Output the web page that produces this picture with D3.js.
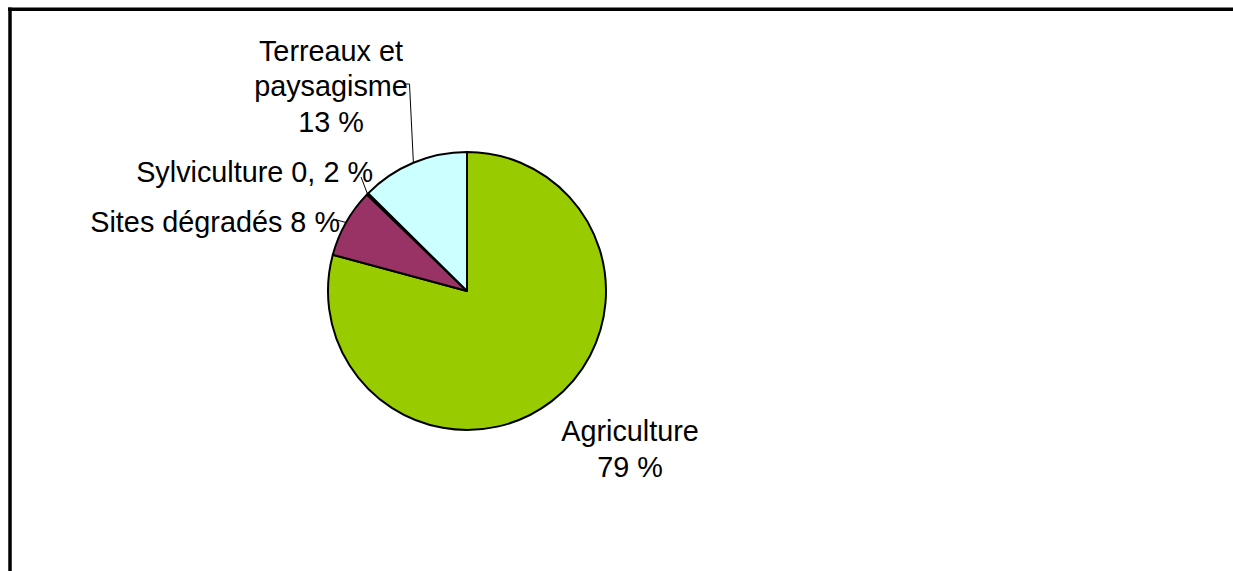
<!DOCTYPE html>
<html>
<head>
<meta charset="utf-8">
<script src="https://cdn.jsdelivr.net/npm/d3@7"></script>
<style>
  html, body { margin: 0; padding: 0; background: #fff; }
  svg { display: block; }
  text { font-family: "Liberation Sans", Arial, sans-serif; fill: #000; }
</style>
</head>
<body>
<svg id="chart" width="1233" height="571"></svg>
<script>
// ---- data ----
const categories = ["Agriculture", "Sites dégradés", "Sylviculture", "Terreaux et paysagisme"];
const values = [79.2, 8, 0.2, 12.6];
const labelLines = [
  ["Agriculture", "79 %"],
  ["Sites dégradés 8 %"],
  ["Sylviculture 0, 2 %"],
  ["Terreaux et", "paysagisme", "13 %"]
];
const colors = ["#99CC00", "#993366", "#FFFFCC", "#CCFFFF"];

// ---- layout ----
const W = 1233, H = 571;
const cx = 467, cy = 291, R = 139;
const fontSize = 28.8, lineH = 35.5;
// label placement: anchor point (x, baseline of first line), text-anchor, leader elbow
const labelLayout = [
  { x: 630, y: 441, anchor: "middle", leader: null },
  { x: 340, y: 232, anchor: "end", leader: { from: [333, 219] } },
  { x: 373, y: 182, anchor: "end", leader: { from: [361, 177] } },
  { x: 331, y: 60.5, anchor: "middle", leader: { from: [405, 84], elbow: [409.5, 84] } }
];

const svg = d3.select("#chart");

// frame (top and left edges visible)
svg.append("line").attr("x1", 8).attr("x2", W).attr("y1", 9.25).attr("y2", 9.25)
  .attr("stroke", "#000").attr("stroke-width", 3.5);
svg.append("line").attr("x1", 10).attr("x2", 10).attr("y1", 7.5).attr("y2", H)
  .attr("stroke", "#000").attr("stroke-width", 3.5);

const pie = d3.pie().sort(null).value(d => d)(values);
const arc = d3.arc().innerRadius(0).outerRadius(R);

const g = svg.append("g").attr("transform", `translate(${cx},${cy})`);
g.selectAll("path.slice").data(pie).enter().append("path")
  .attr("class", "slice")
  .attr("d", arc)
  .attr("fill", (d, i) => colors[i])
  .attr("stroke", "#000")
  .attr("stroke-width", 2)
  .attr("stroke-linejoin", "round");

// leader lines
pie.forEach((d, i) => {
  const L = labelLayout[i].leader;
  if (!L) return;
  const mid = (d.startAngle + d.endAngle) / 2;
  const ex = cx + R * Math.sin(mid), ey = cy - R * Math.cos(mid);
  const pts = [L.from];
  if (L.elbow) pts.push(L.elbow);
  pts.push([ex, ey]);
  svg.append("path")
    .attr("d", d3.line()(pts))
    .attr("fill", "none")
    .attr("stroke", "#000")
    .attr("stroke-width", 1);
});

// labels
labelLines.forEach((lines, i) => {
  const lay = labelLayout[i];
  const t = svg.append("text")
    .attr("text-anchor", lay.anchor)
    .attr("font-size", fontSize);
  lines.forEach((ln, j) => {
    t.append("tspan").attr("x", lay.x).attr("y", lay.y + j * lineH).text(ln);
  });
});
</script>
</body>
</html>
